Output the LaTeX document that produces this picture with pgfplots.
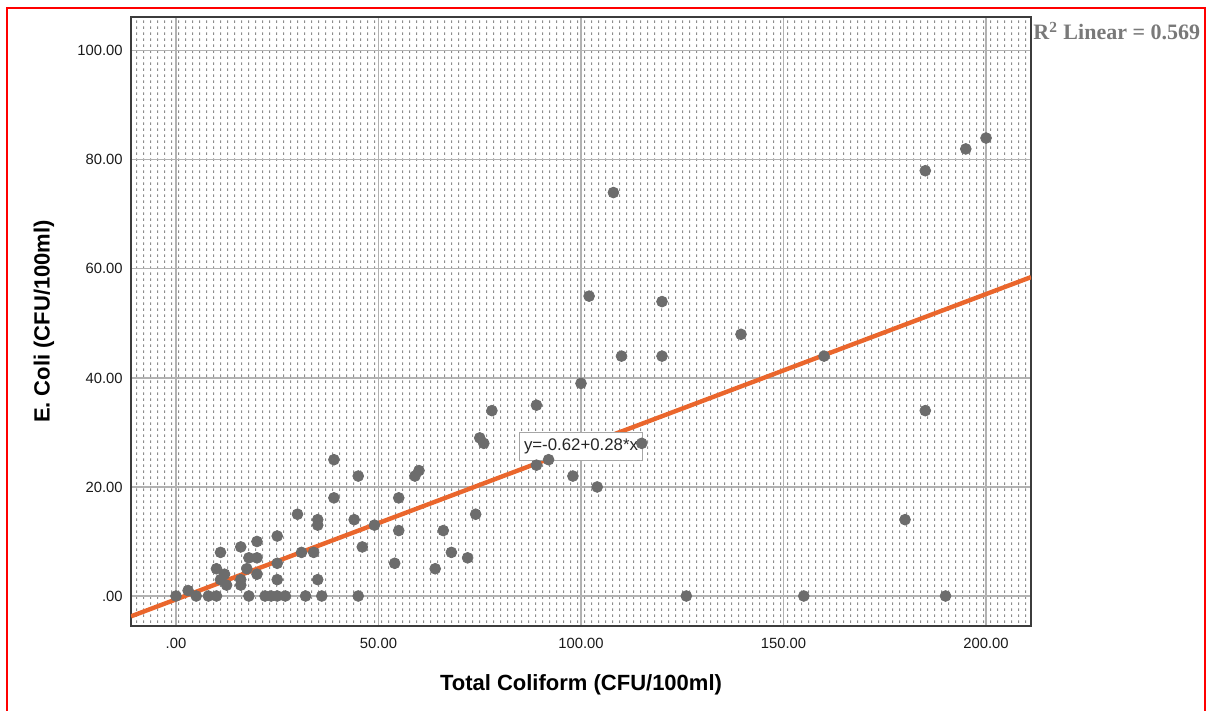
\documentclass[border=0pt]{standalone}
\usepackage{fontspec}
\setmainfont{Liberation Sans}
\newfontfamily\seriffont{Liberation Serif}
\usepackage{pgfplots}
\pgfplotsset{compat=1.18}
\usetikzlibrary{patterns.meta,calc}
\definecolor{ptc}{RGB}{108,108,108}
\definecolor{fitc}{RGB}{234,102,44}
\definecolor{gridc}{RGB}{178,178,178}
\definecolor{axc}{RGB}{60,60,60}
\tikzdeclarepattern{
  name=spss,
  type=uncolored,
  bounding box={(0pt,0pt) and (3.4pt,2.75pt)},
  tile size={(3.4pt,2.75pt)},
  code={\pgfpathrectangle{\pgfpointorigin}{\pgfpoint{0.55pt}{1.4pt}}\pgfusepath{fill}}
}
\begin{document}
\begin{tikzpicture}
\begin{axis}[
  scale only axis, width=450pt, height=304.5pt,
  xmin=-11.1, xmax=211.1, ymin=-5.5, ymax=106.2,
  axis background/.style={pattern={spss}, pattern color=gray!90},
  axis line style={draw=axc, line width=1pt},
  grid=major,
  major grid style={draw=gridc, line width=0.6pt},
  major tick length=0pt,
  xtick={0,50,100,150,200},
  xticklabels={.00,50.00,100.00,150.00,200.00},
  ytick={0,20,40,60,80,100},
  yticklabels={.00,20.00,40.00,60.00,80.00,100.00},
  tick label style={font=\fontsize{7.4}{8}\selectfont, inner sep=0pt, text=black!90},
  xticklabel style={anchor=center, yshift=-8.5pt},
  yticklabel style={anchor=east, xshift=-4pt},
  xlabel={Total Coliform (CFU/100ml)},
  ylabel={E. Coli (CFU/100ml)},
  label style={font=\bfseries\fontsize{11}{12}\selectfont},
  xlabel style={at={(axis description cs:0.5,-0.0969)}, anchor=center},
  ylabel style={at={(axis description cs:-0.0967,0.5)}, anchor=center},
  clip=true,
]
\addplot[only marks, mark=*, mark size=2.7pt, mark options={fill=ptc, draw=ptc}] table {
x y
0 0
5 0
8 0
10 0
18 0
22 0
23.5 0
25 0
27 0
32 0
36 0
45 0
126 0
155 0
190 0
3 1
11 3
12.5 2
16 3
16 2
10 5
12 4
17.5 5
20 4
25 3
25 6
18 7
20 7
11 8
16 9
20 10
25 11
30 15
31 8
34 8
35 14
35 13
35 3
39 18
39 25
44 14
45 22
46 9
49 13
54 6
55 12
55 18
59 22
60 23
64 5
66 12
68 8
72 7
74 15
75 29
76 28
78 34
89 35
89 24
92 25
98 22
100 39
102 55
104 20
108 74
110 44
115 28
120 54
120 44
139.5 48
160 44
180 14
185 34
185 78
195 82
200 84
};
\addplot[fitc, line width=2.2pt] coordinates {(-11.1,-3.728) (211.1,58.488)};
\node[draw=gray!70, line width=0.5pt, fill=white, font=\fontsize{8.4}{9}\selectfont, text=black!85,
      minimum width=61.5pt, minimum height=14pt, inner sep=1pt] at (axis cs:100,27.5) {y=-0.62+0.28*x};
\coordinate (SW) at (rel axis cs:0,0);
\coordinate (NE) at (rel axis cs:1,1);
\end{axis}
\node[anchor=base west, font=\seriffont\bfseries\fontsize{11}{12}\selectfont, text=gray!95!black, inner sep=0pt]
  at ($(NE)+(1pt,-11.5pt)$) {R\textsuperscript{2} Linear = 0.569};
\draw[red, line width=1pt] ($(SW)+(-62pt,-44pt)$) -- ($(SW|-NE)+(-62pt,4.5pt)$) -- ($(NE)+(87pt,4.5pt)$) -- ($(NE|-SW)+(87pt,-44pt)$);
\pgfresetboundingbox
\path[use as bounding box] ($(SW)+(-65.5pt,-42.5pt)$) rectangle ($(NE)+(87.5pt,8.5pt)$);
\end{tikzpicture}
\end{document}
